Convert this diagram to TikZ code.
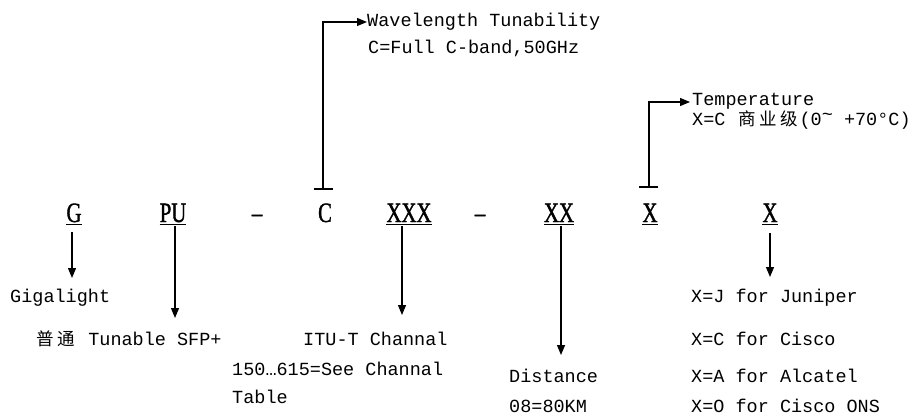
\documentclass[tikz,border=0pt]{standalone}
\usepackage{fontspec}
\usetikzlibrary{arrows.meta}
\newfontfamily\codef[FakeStretch=0.74,FakeBold=1.3]{Liberation Serif}
\newfontfamily\monof{Liberation Mono}
\newfontfamily\cjk{Noto Sans CJK SC}
\newcommand\cjc[1]{\makebox[21pt][c]{\cjk\fontsize{17.5}{18}\selectfont #1}}
\tikzset{
  code/.style={font=\codef\fontsize{28}{28}\selectfont, inner sep=0pt, anchor=base},
  lbl/.style={font=\monof\fontsize{18.5}{20}\selectfont, inner sep=0pt, anchor=base west},
  arr/.style={line width=1.2pt, -{Triangle[width=8pt,length=10pt]}},
  uline/.style={line width=1.2pt},
  bar/.style={line width=2.6pt},
}
\begin{document}
\begin{tikzpicture}[x=1pt,y=-1pt]
\useasboundingbox[fill=white] (0,0) rectangle (912,414);
% code letters
\node[code] (G) at (74,222) {G};
\node[code] (PU) at (173,222) {PU};
\node[code] (d1) at (257,222) {\textendash};
\node[code] (C) at (325,222) {C};
\node[code] (XXX) at (409,222) {XXX};
\node[code] (d2) at (480,222) {\textendash};
\node[code] (XX) at (559,222) {XX};
\node[code] (XT) at (650,222) {X};
\node[code] (XV) at (770,222) {X};
% underlines
\foreach \n in {G,PU,XXX,XX,XT,XV}
  \draw[uline] ([yshift=-2.5pt]\n.base west) -- ([yshift=-2.5pt]\n.base east);
% labels
\node[lbl] (wl) at (367,27) {Wavelength Tunability};
\node[lbl] (wl2) at (368,54) {C=Full C-band,50GHz};
\node[lbl] (temp) at (692,106) {Temperature};
\node[lbl] (temp2) at (692,126) {X=C \cjc{商}\cjc{业}\cjc{级}(0\raisebox{5pt}{\textasciitilde} +70°C)};
\node[lbl] (giga) at (10,302) {Gigalight};
\node[lbl] (tun) at (35,345) {\cjc{普}\cjc{通} Tunable SFP+};
\node[lbl] (itu) at (303,345) {ITU-T Channal};
\node[lbl] (see) at (232,375) {150…615=See Channal};
\node[lbl] (tab) at (232,403) {Table};
\node[lbl] (dist) at (509,382) {Distance};
\node[lbl] (km) at (509,412) {08=80KM};
\node[lbl] (jun) at (691,302) {X=J for Juniper};
\node[lbl] (cis) at (691,345) {X=C for Cisco};
\node[lbl] (alc) at (691,382) {X=A for Alcatel};
\node[lbl] (ons) at (691,412) {X=O for Cisco ONS};
% bars and upward connectors
\coordinate (Cbar) at (323,189);
\coordinate (Tbar) at (649,187);
\draw[bar] ([xshift=-9.5pt]Cbar) -- ([xshift=9.5pt]Cbar);
\draw[bar] ([xshift=-10pt]Tbar) -- ([xshift=9pt]Tbar);
\draw[arr] (Cbar) |- (323,22) -- (367,22);
\draw[arr] (Tbar) |- (649,102) -- (690,102);
% downward arrows
\coordinate (Gend) at (72,278);
\coordinate (PUend) at (175,318);
\coordinate (XXXend) at (402,315);
\coordinate (XXend) at (561,355);
\coordinate (XVend) at (770,277);
\draw[arr] (Gend |- G.base) ++(0,10) -- (Gend);
\draw[arr] (PUend |- PU.base) ++(0,4) -- (PUend);
\draw[arr] (XXXend |- XXX.base) ++(0,4) -- (XXXend);
\draw[arr] (XXend |- XX.base) ++(0,4) -- (XXend);
\draw[arr] (XVend |- XV.base) ++(0,11) -- (XVend);
\end{tikzpicture}
\end{document}
